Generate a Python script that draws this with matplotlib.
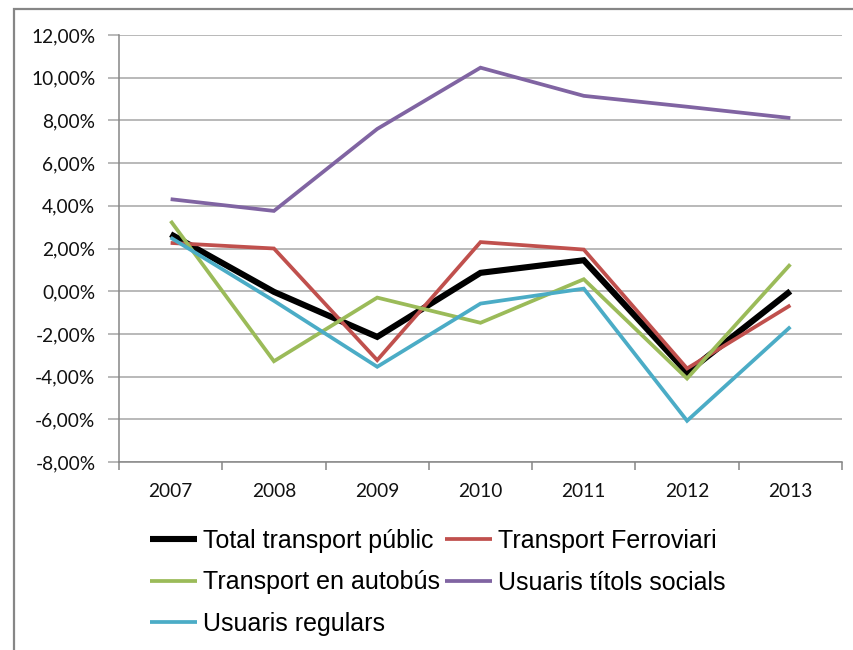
import matplotlib
matplotlib.use("Agg")
import matplotlib.pyplot as plt
from matplotlib.patches import Rectangle
from matplotlib.ticker import FuncFormatter, FixedLocator
import numpy as np

years = ["2007", "2008", "2009", "2010", "2011", "2012", "2013"]
total_public = [2.67, -0.03, -2.14, 0.86, 1.45, -3.81, 0.00]
ferroviari = [2.26, 2.00, -3.23, 2.30, 1.95, -3.62, -0.66]
autobus = [3.29, -3.28, -0.30, -1.48, 0.56, -4.09, 1.26]
titols_socials = [4.31, 3.76, 7.60, 10.47, 9.15, 8.64, 8.11]
regulars = [2.51, -0.45, -3.54, -0.58, 0.12, -6.07, -1.67]

series_names = ["Total transport públic", "Transport Ferroviari", "Transport en autobús",
                "Usuaris títols socials", "Usuaris regulars"]
series_values = [total_public, ferroviari, autobus, titols_socials, regulars]
series_colors = ["#000000", "#C0504D", "#9BBB59", "#8064A2", "#4BACC6"]
series_widths = [4.4, 2.7, 2.7, 2.7, 2.7]

W, H = 854, 650
fig = plt.figure(figsize=(W / 100, H / 100), dpi=100)
ax = fig.add_axes([119 / W, (H - 462) / H, (842 - 119) / W, (462 - 35) / H])

x = np.arange(len(years))
handles = []
for name, vals, col, lw in zip(series_names, series_values, series_colors, series_widths):
    h, = ax.plot(x, vals, color=col, lw=lw, solid_joinstyle="miter", solid_capstyle="butt",
                 label=name, zorder=3)
    handles.append(h)

ax.set_xlim(-0.5, len(years) - 0.5)
ax.set_ylim(-8, 12)
ax.set_yticks(np.arange(-8, 12.01, 2))
ax.yaxis.set_major_formatter(FuncFormatter(lambda v, p: f"{v:.2f}%".replace(".", ",")))
ax.grid(axis="y", color="#B3B3B3", lw=1.3, zorder=1)
ax.set_axisbelow(True)

ax.set_xticks(x)
ax.set_xticklabels(years)
ax.xaxis.set_minor_locator(FixedLocator(np.arange(-0.5, len(years), 1.0)))
ax.tick_params(axis="x", which="major", length=0, pad=15, labelsize=13.8)
ax.tick_params(axis="x", which="minor", length=6, width=1.1, color="#868686", direction="out")
ax.tick_params(axis="y", which="major", length=8, width=1.1, color="#A6A6A6", direction="out",
               pad=9, labelsize=13.8)
for lab in ax.get_xticklabels() + ax.get_yticklabels():
    lab.set_family(["Lato", "DejaVu Sans"])
    lab.set_color("#111111")

for side in ["top", "right"]:
    ax.spines[side].set_visible(False)
ax.spines["left"].set_color("#868686")
ax.spines["bottom"].set_color("#868686")
ax.spines["left"].set_linewidth(1.1)
ax.spines["bottom"].set_linewidth(1.1)

# chart-area border (cropped on right and bottom)
fig.patches.append(Rectangle((14 / W, -0.05), 1.0, (H - 9) / H + 0.05, transform=fig.transFigure,
                             fill=False, edgecolor="#868686", lw=1.6))

order = [0, 2, 4, 1, 3]
leg = fig.legend([handles[i] for i in order], [series_names[i] for i in order],
                 loc="upper left", bbox_to_anchor=(150 / W, 1 - 529 / H), ncol=2,
                 frameon=False, handlelength=1.88, handletextpad=0.24, columnspacing=0.2,
                 labelspacing=0.7, borderaxespad=0, borderpad=0,
                 prop={"family": ["Liberation Sans", "DejaVu Sans"], "size": 18})

fig.savefig("out.png", dpi=100)
